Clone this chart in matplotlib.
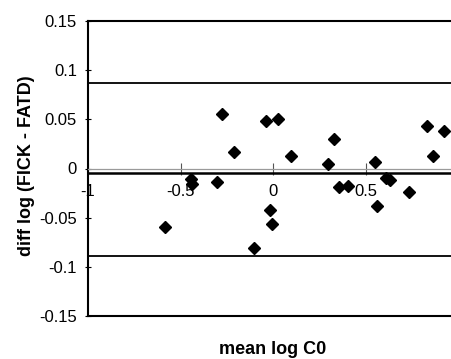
import matplotlib
matplotlib.use('Agg')
import matplotlib.pyplot as plt

# Bland-Altman: mean of log C0 vs difference FICK - FATD
mean_log_c0 = [-0.274, -0.041, 0.025, -0.214, 0.096, -0.446, -0.438, -0.301,
               -0.018, -0.007, -0.585, -0.103, 0.330, 0.294, 0.354, 0.402,
               0.550, 0.609, 0.631, 0.734, 0.559, 0.829, 0.923, 0.862]
diff_log = [0.0554, 0.0483, 0.0500, 0.0165, 0.0130, -0.0107, -0.0158, -0.0137,
            -0.0422, -0.0562, -0.0592, -0.0809, 0.0300, 0.0049, -0.0191, -0.0178,
            0.0063, -0.0097, -0.0117, -0.0242, -0.0378, 0.0432, 0.0381, 0.0127]

mean_diff = -0.005
upper_loa = 0.0867
lower_loa = -0.0887

xticks = [-1, -0.5, 0, 0.5]
xticklabels = ['-1', '-0.5', '0', '0.5']
yticks = [-0.15, -0.1, -0.05, 0, 0.05, 0.1, 0.15]
yticklabels = ['-0.15', '-0.1', '-0.05', '0', '0.05', '0.1', '0.15']

plt.rcParams.update({'font.family': ['Liberation Sans', 'DejaVu Sans']})

fig = plt.figure(figsize=(4.51, 3.59), dpi=100)
ax = fig.add_axes([88 / 451.0, 43 / 359.0, 363 / 451.0, 295 / 359.0])

ax.set_xlim(-1, 0.9605)
ax.set_ylim(-0.15, 0.15)

# limits of agreement and mean difference
ax.axhline(upper_loa, color='black', lw=1.3)
ax.axhline(mean_diff, color='black', lw=1.8)
ax.axhline(lower_loa, color='black', lw=1.3)
ax.axhline(-0.15, color='black', lw=1.5, clip_on=False)

ax.plot(mean_log_c0, diff_log, linestyle='', marker='D', ms=5.8,
        color='black', zorder=3)

# x axis crosses at y = 0 (Excel style)
ax.spines['bottom'].set_position(('data', 0))
ax.spines['bottom'].set_color('#9a9a9a')
ax.spines['bottom'].set_linewidth(0.9)
ax.spines['right'].set_visible(False)
ax.spines['top'].set_linewidth(1.5)
ax.spines['left'].set_linewidth(1.5)

ax.set_xticks(xticks)
ax.set_xticklabels(xticklabels)
ax.set_yticks(yticks)
ax.set_yticklabels(yticklabels)
ax.tick_params(axis='x', direction='inout', length=8, width=0.8,
               color='#555555', labelsize=12, pad=7.5)
ax.tick_params(axis='y', direction='inout', length=4, width=0.8,
               labelsize=12, pad=6)

fig.text(27 / 451.0, 1 - 166 / 359.0, 'diff log (FICK - FATD)', rotation=90,
         ha='center', va='center', fontsize=13, fontweight='bold')
fig.text(273 / 451.0, 1 - 349 / 359.0, 'mean log C0', ha='center',
         va='center', fontsize=13, fontweight='bold')

plt.savefig('out.png', dpi=100)
plt.close(fig)
